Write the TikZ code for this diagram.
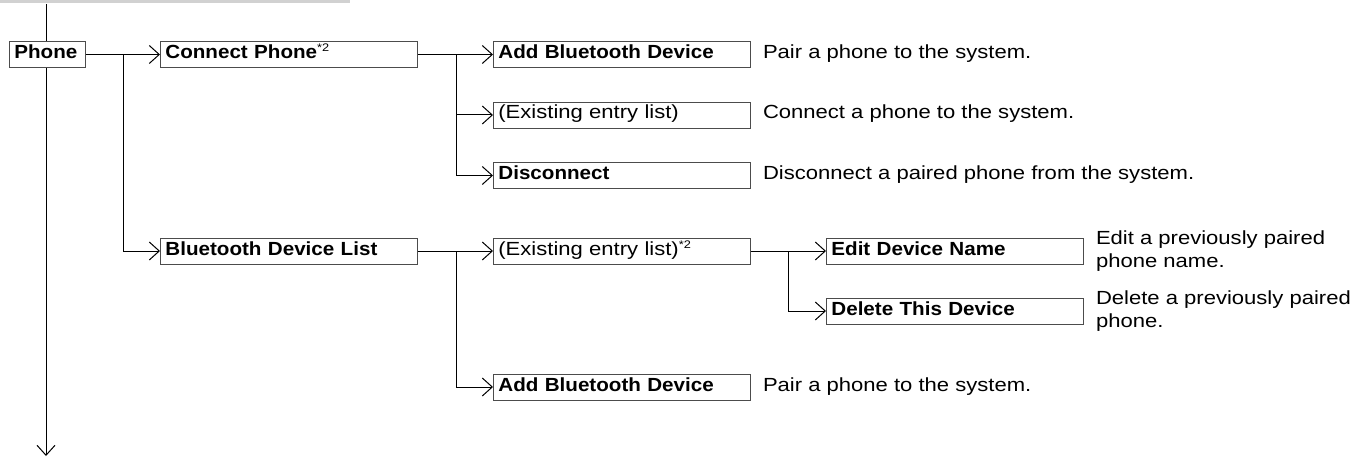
\documentclass[tikz,border=0pt]{standalone}
\usepackage{fontspec}
\setmainfont{Liberation Sans}
\newfontfamily\regfont{Liberation Sans}[FakeStretch=1.16]
\newfontfamily\boldfont{Liberation Sans}[FakeStretch=1.085]
\usetikzlibrary{arrows.meta,positioning}
\newcommand{\supmark}{\raisebox{6.5pt}{\regfont\mdseries\fontsize{11}{11}\selectfont *2}}
\begin{document}
\begin{tikzpicture}[x=1pt,y=-1pt,
  txt/.style={font=\fontsize{19}{23}\selectfont\regfont},
  menubox/.style={txt, draw=black!70, line width=0.8pt, fill=white,
    inner xsep=5pt, inner ysep=2pt, text height=15pt, text depth=7pt,
    align=left, anchor=west},
  wide/.style={menubox, text width=247pt},
  bold/.style={font=\fontsize{19}{23}\selectfont\boldfont\bfseries},
  desc/.style={txt, inner xsep=0pt, inner ysep=2pt, text height=15pt, text depth=7pt, anchor=west},
  desctwo/.style={txt, inner sep=0pt, align=left, anchor=west},
  conn/.style={line width=1pt, -{Straight Barb[length=10pt,width=18pt]}}
]
\useasboundingbox (0,0) rectangle (1354,457);
\fill[black!18] (0,0) rectangle (350,3);

% main axis
\coordinate (top) at (46,4);
\coordinate (bot) at (46,456);
\draw[conn] (top) -- (bot);

% level 1
\node[menubox, bold, text width=66pt] (phone) at (9,54.5) {Phone};

% level 1 items
\node[wide, bold] (cp) at (160,54.5) {Connect Phone\supmark};
\node[wide, bold] (btdl) at (160,251) {Bluetooth Device List};
\coordinate (b1) at (123,54.5);
\draw[conn] (phone.east) -- (cp.west);
\draw[conn] (b1) |- (btdl.west);

% level 2
\node[wide, bold] (ab1) at (493,54.5) {Add Bluetooth Device};
\node[wide] (ex1) at (493,115) {(Existing entry list)};
\node[wide, bold] (dis) at (493,175.5) {Disconnect};
\node[wide] (ex2) at (493,251) {(Existing entry list)\supmark};
\node[wide, bold] (ab2) at (493,387) {Add Bluetooth Device};
\coordinate (b2) at (456,54.5);
\coordinate (b3) at (456,251);
\draw[conn] (cp.east) -- (ab1.west);
\draw[conn] (b2) |- (ex1.west);
\draw[conn] (b2) |- (dis.west);
\draw[conn] (btdl.east) -- (ex2.west);
\draw[conn] (b3) |- (ab2.west);

% level 3
\node[wide, bold] (ed) at (826,251) {Edit Device Name};
\node[wide, bold] (del) at (826,311) {Delete This Device};
\coordinate (b4) at (788,251);
\draw[conn] (ex2.east) -- (ed.west);
\draw[conn] (b4) |- (del.west);

% descriptions
\node[desc, right=12pt of ab1] (d1) {Pair a phone to the system.};
\node[desc, right=12pt of ex1] (d2) {Connect a phone to the system.};
\node[desc, right=12pt of dis] (d3) {Disconnect a paired phone from the system.};
\node[desc, right=12pt of ab2] (d4) {Pair a phone to the system.};
\node[desctwo, right=12pt of ed] (d5) {Edit a previously paired\\phone name.};
\node[desctwo, right=12pt of del] (d6) {Delete a previously paired\\phone.};
\end{tikzpicture}
\end{document}
